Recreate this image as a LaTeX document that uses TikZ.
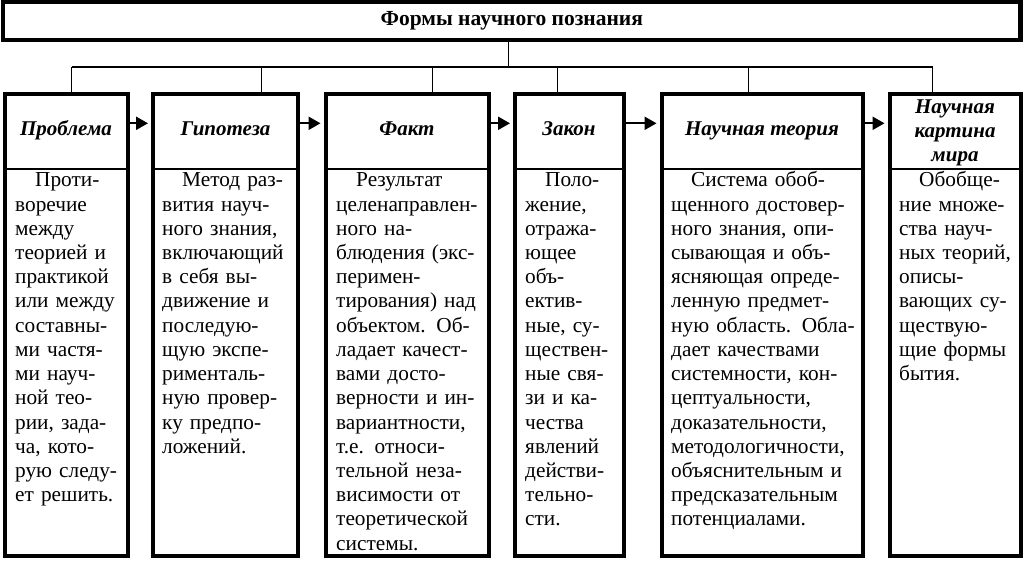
\documentclass[tikz,border=0pt]{standalone}
\usepackage{fontspec}
\setmainfont{Liberation Serif}
\usetikzlibrary{arrows.meta}
\newlength\myindent
\setlength\myindent{20pt}
\newcommand\jl[1]{\makebox[\linewidth][s]{#1}\par}
\newcommand\jfirst[1]{\hspace*{\myindent}\makebox[\dimexpr\linewidth-\myindent\relax][s]{#1}\par}
\newcommand\lfirst[1]{\hspace*{\myindent}#1\par}
\newcommand\lline[1]{#1\par}
\tikzset{
  colbox/.style={draw, line width=4pt, outer sep=0pt, inner sep=0pt, anchor=north west, minimum height=461.5pt},
  titlebox/.style={draw, line width=4.5pt, outer sep=0pt, inner sep=0pt, anchor=north west,
    minimum width=1017.5pt, minimum height=38pt, font=\fontsize{21.5}{24}\selectfont\bfseries},
  thinline/.style={line width=1.4pt},
  arr/.style={line width=2.2pt, -{Triangle[length=12pt,width=13pt]}, shorten >=5pt},
  hdr/.style={font=\fontsize{21}{24}\selectfont\bfseries\itshape, inner sep=0pt, align=center},
  body/.style={anchor=base west, inner sep=0pt, text width=#1, font=\fontsize{21.3}{24.2}\selectfont}
}
\begin{document}
\begin{tikzpicture}[x=1pt,y=-1pt]
\useasboundingbox (0,0) rectangle (1024,561);
% title
\node[titlebox] (t) at (3,2) {Формы научного познания};
% columns
\node[colbox, minimum width=122.8pt] (c1) at (4.7,94.5) {};
\node[colbox, minimum width=145pt]   (c2) at (153,94.5) {};
\node[colbox, minimum width=163.5pt] (c3) at (325.5,94.5) {};
\node[colbox, minimum width=108.5pt] (c4) at (515,94.5) {};
\node[colbox, minimum width=201.5pt] (c5) at (661.5,94.5) {};
\node[colbox, minimum width=131pt]   (c6) at (889.5,94.5) {};
% helper coordinates
\coordinate (hd) at (0,169);
\coordinate (ay) at (0,123.3);
\coordinate (tv) at (508.3,67);
\coordinate (b1) at (71.7,67);
\coordinate (b2) at (261.5,67);
\coordinate (b3) at (432.7,67);
\coordinate (b4) at (557.7,67);
\coordinate (b5) at (748.5,67);
\coordinate (b6) at (932.7,67);
% header dividers
\foreach \c in {c1,c2,c3,c4,c5,c6}
  \draw[thinline] (\c.west |- hd) -- (\c.east |- hd);
% tree connectors
\draw[thinline] (t.south -| tv) -- (tv);
\draw[thinline] (b1) -- (b6);
\draw[thinline] (b1) -- (b1 |- c1.north);
\draw[thinline] (b2) -- (b2 |- c2.north);
\draw[thinline] (b3) -- (b3 |- c3.north);
\draw[thinline] (b4) -- (b4 |- c4.north);
\draw[thinline] (b5) -- (b5 |- c5.north);
\draw[thinline] (b6) -- (b6 |- c6.north);
% arrows
\draw[arr] (c1.east |- ay) -- (c2.west |- ay);
\draw[arr] (c2.east |- ay) -- (c3.west |- ay);
\draw[arr] (c3.east |- ay) -- (c4.west |- ay);
\draw[arr] (c4.east |- ay) -- (c5.west |- ay);
\draw[arr] (c5.east |- ay) -- (c6.west |- ay);
% headers
\node[hdr, anchor=base] (h1) at (66,136) {Проблема};
\node[hdr, anchor=base] (h2) at (225.5,136) {Гипотеза};
\node[hdr, anchor=base] (h3) at (407,136) {Факт};
\node[hdr, anchor=base] (h4) at (569,136) {Закон};
\node[hdr, anchor=base] (h5) at (762,136) {Научная теория};
\node[hdr, anchor=center] (h6) at (955,132.5) {Научная\\картина\\мира};
% bodies
\node[body=102pt] (p1) at (15,187) {%
\lfirst{Проти-}
\lline{воречие}
\lline{между}
\jl{теорией и}
\lline{практикой}
\jl{или между}
\lline{составны-}
\jl{ми частя-}
\jl{ми науч-}
\jl{ной тео-}
\jl{рии, зада-}
\jl{ча, кото-}
\jl{рую следу-}
\lline{ет решить.}};
\node[body=125pt] (p2) at (162,187) {%
\jfirst{Метод раз-}
\jl{вития науч-}
\jl{ного знания,}
\lline{включающий}
\jl{в себя вы-}
\jl{движение и}
\lline{последую-}
\jl{щую экспе-}
\lline{рименталь-}
\jl{ную провер-}
\jl{ку предпо-}
\lline{ложений.}};
\node[body=142pt] (p3) at (336,187) {%
\lfirst{Результат}
\lline{целенаправлен-}
\jl{ного на-}
\jl{блюдения (экс-}
\lline{перимен-}
\jl{тирования) над}
\jl{объектом. Об-}
\jl{ладает качест-}
\jl{вами досто-}
\jl{верности и ин-}
\lline{вариантности,}
\jl{т.е. относи-}
\jl{тельной неза-}
\jl{висимости от}
\lline{теоретической}
\lline{системы.}};
\node[body=84pt] (p4) at (525,187) {%
\lfirst{Поло-}
\lline{жение,}
\lline{отража-}
\lline{ющее}
\lline{объ-}
\lline{ектив-}
\jl{ные, су-}
\lline{ществен-}
\jl{ные свя-}
\jl{зи и ка-}
\lline{чества}
\lline{явлений}
\lline{действи-}
\lline{тельно-}
\lline{сти.}};
\node[body=182pt] (p5) at (671,187) {%
\jfirst{Система обоб-}
\jl{щенного достовер-}
\jl{ного знания, опи-}
\jl{сывающая и объ-}
\jl{ясняющая опреде-}
\jl{ленную предмет-}
\jl{ную область. Обла-}
\jl{дает качествами}
\jl{системности, кон-}
\lline{цептуальности,}
\lline{доказательности,}
\lline{методологичности,}
\jl{объяснительным и}
\lline{предсказательным}
\lline{потенциалами.}};
\node[body=111pt] (p6) at (899,187) {%
\lfirst{Обобще-}
\jl{ние множе-}
\jl{ства науч-}
\jl{ных теорий,}
\lline{описы-}
\jl{вающих су-}
\lline{ществую-}
\jl{щие формы}
\lline{бытия.}};
\end{tikzpicture}
\end{document}
